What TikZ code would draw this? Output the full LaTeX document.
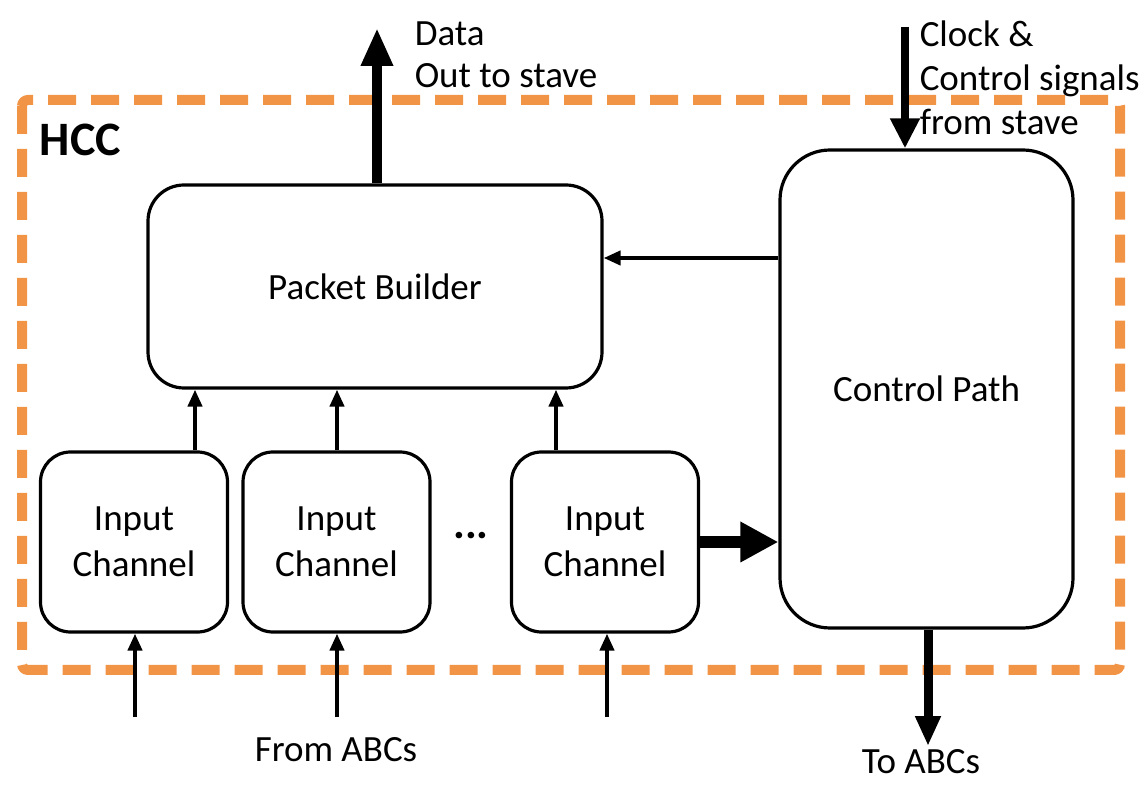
\documentclass[tikz,border=0pt]{standalone}
\usepackage{fontspec}
\setmainfont{Carlito}
\usetikzlibrary{arrows.meta}

\definecolor{hccorange}{RGB}{242,148,70}

\tikzset{every picture/.style={line width=0.75pt}}
\tikzset{
  block/.style={draw,line width=1.6pt,rounded corners=18pt,align=center,inner sep=0pt},
  chan/.style={block,rounded corners=15pt,minimum width=93.5pt,minimum height=90pt},
  thinarr/.style={line width=2pt,-{Triangle[length=8.5pt,width=7pt]}},
  thickarr/.style={line width=5pt,-{Triangle[length=19pt,width=15pt]}},
  label/.style={inner sep=0pt,align=left}
}

\begin{document}
\begin{tikzpicture}[x=0.5pt,y=0.5pt,yscale=-1,xscale=1,font=\fontsize{18.5}{23}\selectfont]
\useasboundingbox (0,0) rectangle (1146,785);

%Dashed frame
\draw [color=hccorange,line width=5pt,dash pattern=on 14pt off 7.5pt,rounded corners=3pt] (22,100) rectangle (1120,670);

%Rounded Rect
\node [block,minimum width=227pt,minimum height=101.5pt] (pb) at (375,286.5) {Packet Builder};
%Rounded Rect
\node [block,rounded corners=25pt,minimum width=146.5pt,minimum height=239pt] (cp) at (926.5,389) {Control Path};
%Rounded Rect
\node [chan] (ic1) at (134,542) {Input\\Channel};
\node [chan] (ic2) at (336.5,542) {Input\\Channel};
\node [chan] (ic3) at (605,542) {Input\\Channel};

% Text Node
\node [label,anchor=west,font=\fontsize{24}{28}\selectfont\bfseries] (hcc) at (39,140) {HCC};
% Text Node
\node [label,font=\fontsize{22}{23}\selectfont\bfseries] (dots) at (471,536) {...};
% Text Node
\node [label,anchor=west,font=\fontsize{18.5}{21}\selectfont] (data) at (414,55) {Data\\Out to stave};
% Text Node
\node [label,anchor=west,font=\fontsize{18.5}{22}\selectfont] (clock) at (919,78) {Clock \&\\Control signals\\from stave};
% Text Node
\node [label] (from) at (336,750) {From ABCs};
% Text Node
\node [label] (to) at (921,762) {To ABCs};

\coordinate (dataout) at (377,28);
\coordinate (clkin) at (905,27);
\coordinate (toabc) at (928,746);
\coordinate (abc1) at (135,717);
\coordinate (abc2) at (337,717);
\coordinate (abc3) at (607,717);

% Connection
\draw [thickarr] (pb.north -| dataout) -- (dataout);
% Connection
\draw [line width=4pt,-{Triangle[length=15pt,width=14pt]}] (clkin) -- (clkin |- cp.north);
% Connection
\draw [line width=4.5pt,-{Triangle[length=15pt,width=12pt]}] (cp.south -| toabc) -- (toabc);
% Connection
\draw [thinarr] (cp.west |- 0,258) -- (pb.east |- 0,258);
% Connection
\draw [line width=6pt,-{Triangle[length=19pt,width=19pt]}] (ic3.east) -- (ic3.east -| cp.west);
% Connection
\draw [thinarr] (ic1.north -| 195,0) -- (pb.south -| 195,0);
\draw [thinarr] (ic2.north -| 337,0) -- (pb.south -| 337,0);
\draw [thinarr] (ic3.north -| 556,0) -- (pb.south -| 556,0);
% Connection
\draw [thinarr] (abc1) -- (abc1 |- ic1.south);
\draw [thinarr] (abc2) -- (abc2 |- ic2.south);
\draw [thinarr] (abc3) -- (abc3 |- ic3.south);

\end{tikzpicture}
\end{document}
